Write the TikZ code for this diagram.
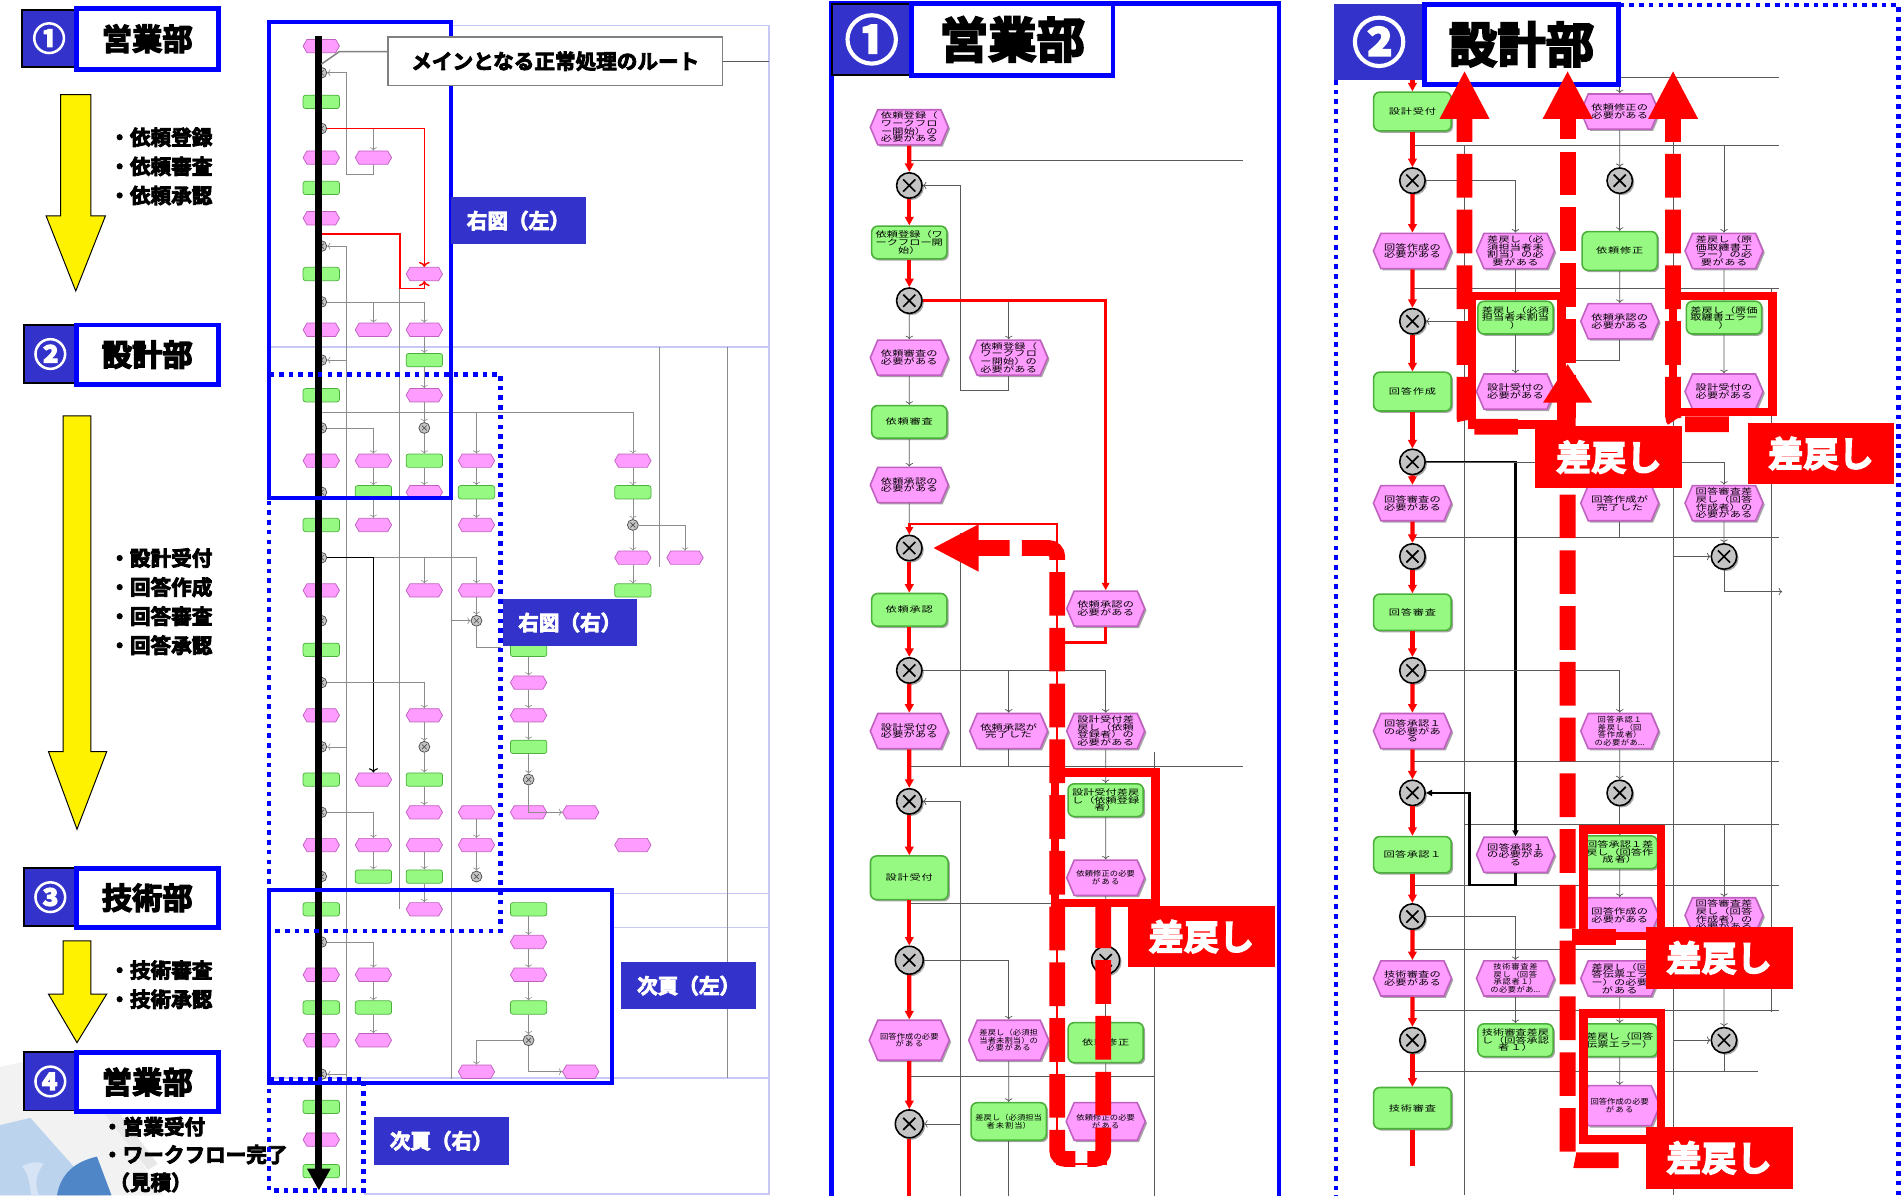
\documentclass[tikz,border=0pt]{standalone}
\usepackage{fontspec}
\setmainfont{Noto Sans CJK JP}[BoldFont={Noto Sans CJK JP Bold}]
\newfontfamily\heavyfont{Noto Sans CJK JP Bold}[FakeBold=4]
\newfontfamily\nodefont{Noto Sans CJK JP}[FakeStretch=1.4]
\newfontfamily\narrowfont{Noto Sans CJK JP}[FakeStretch=1.12]
\XeTeXlinebreaklocale "ja"
\XeTeXlinebreakskip=0pt plus 1pt
\usetikzlibrary{shapes.symbols,shadows,arrows.meta}
\definecolor{hdrblue}{HTML}{3333CC}
\definecolor{lineblue}{HTML}{0000FF}
\definecolor{evfill}{HTML}{FF9CFF}
\definecolor{evdraw}{HTML}{C060C0}
\definecolor{fnfill}{HTML}{96FA82}
\definecolor{fndraw}{HTML}{4CAF3C}
\definecolor{xrfill}{HTML}{C4C4C4}
\definecolor{lav}{HTML}{C8C8F4}
\definecolor{sashi}{HTML}{FF0000}
\definecolor{decoblue}{HTML}{4F86C8}
\definecolor{decolight}{HTML}{BCD3EE}
\begin{document}
\begin{tikzpicture}[x=1pt,y=-1pt,
ev/.style={
% event hexagon
shape=signal, signal to=east and west, signal pointer angle=134,
draw=evdraw, line width=1.3pt, fill=evfill,
minimum width=62pt, minimum height=29pt, text width=50pt, inner sep=1pt,
align=center, font=\nodefont\fontsize{6.6}{6.3}\selectfont,
drop shadow={shadow xshift=1.5pt,shadow yshift=-1.5pt,fill=black!35,opacity=1}
},
fn/.style={
% function box
rectangle, rounded corners=5pt,
draw=fndraw, line width=1.3pt, fill=fnfill,
minimum width=62pt, minimum height=27pt, text width=56pt, inner sep=1pt,
align=center, font=\nodefont\fontsize{6.6}{6.3}\selectfont,
drop shadow={shadow xshift=1.5pt,shadow yshift=-1.5pt,fill=black!35,opacity=1}
},
tight/.style={font=\narrowfont\fontsize{6.1}{6.2}\selectfont},
xr/.style={
circle, draw=black, line width=1.3pt, fill=xrfill, minimum size=21pt, inner sep=0pt,
drop shadow={shadow xshift=1.5pt,shadow yshift=-1.5pt,fill=black!35,opacity=1},
path picture={\draw[line width=1.4pt]
([shift={(-5pt,-5pt)}]path picture bounding box.center) -- ([shift={(5pt,5pt)}]path picture bounding box.center)
([shift={(-5pt,5pt)}]path picture bounding box.center) -- ([shift={(5pt,-5pt)}]path picture bounding box.center);}
},
me/.style={shape=signal, signal to=east and west, signal pointer angle=120,
draw=evdraw, line width=0.6pt, fill=evfill, minimum width=30pt, minimum height=11pt, inner sep=0pt},
mf/.style={rectangle, rounded corners=2pt, draw=fndraw, line width=0.6pt, fill=fnfill,
minimum width=30pt, minimum height=11pt, inner sep=0pt},
mx/.style={circle, draw=black!70, line width=0.6pt, fill=xrfill, minimum size=9pt, inner sep=0pt,
path picture={\draw[line width=0.5pt]
([shift={(-2pt,-2pt)}]path picture bounding box.center) -- ([shift={(2pt,2pt)}]path picture bounding box.center)
([shift={(-2pt,2pt)}]path picture bounding box.center) -- ([shift={(2pt,-2pt)}]path picture bounding box.center);}},
flow/.style={->, black!65, line width=0.6pt},
gline/.style={black!65, line width=0.6pt},
redflow/.style={-{Triangle[length=7pt,width=7pt]}, red, line width=3.5pt},
redline/.style={red, line width=3.5pt},
redthin/.style={red, line width=2pt},
thickflow/.style={-{Triangle[length=5pt,width=5pt]}, black, line width=2pt},
bigdash/.style={sashi, line width=13pt, dash pattern=on 36pt off 10pt, rounded corners=7pt},
bighead/.style={-{Triangle[length=40pt,width=38pt]}},
redbox/.style={draw=sashi, line width=7pt},
sashitag/.style={fill=sashi, text=white, font=\heavyfont\fontsize{29}{29}\selectfont,
minimum width=121pt, minimum height=51pt, inner sep=0pt},
hdrnum/.style={fill=hdrblue, draw=black, line width=1.5pt, text=white, inner sep=0pt},
hdrname/.style={fill=white, draw=lineblue, line width=4pt, inner sep=0pt},
tagbox/.style={fill=hdrblue, text=white, font=\heavyfont\fontsize{17}{17}\selectfont,
minimum width=111pt, minimum height=39pt, inner sep=0pt},
bullet/.style={font=\heavyfont\fontsize{17}{24}\selectfont, align=left, anchor=north west, inner sep=0pt},
mini/.style={black!45, line width=0.5pt},
minired/.style={red, line width=1.2pt},
lavline/.style={lav, line width=1.5pt},
bluebox/.style={lineblue, line width=3.5pt},
bluedot/.style={lineblue, line width=3.8pt, dash pattern=on 3.8pt off 4.2pt},
yarrow/.style={fill=yellow, draw=black, line width=0.8pt}
]
\useasboundingbox (0,0) rectangle (1568,986);
\fill[white] (0,0) rectangle (1568,986);

% ---------------- left column ----------------
\fill[gray!10] (0,880) -- (55,868) -- (135,986) -- (0,986) -- cycle;
\fill[gray!18] (60,885) -- (70,880) -- (130,960) -- (122,965) -- cycle;
\fill[decolight] (0,928) -- (25,922) -- (82,986) -- (0,986) -- cycle;
\fill[decoblue] (47,986) .. controls (50,968) and (62,958) .. (80,954) -- (92,986) -- cycle;
\fill[decolight!60!white] (18,962) .. controls (26,958) and (32,958) .. (36,960) .. controls (30,968) and (28,976) .. (32,986) -- (26,986) .. controls (24,976) and (24,968) .. (18,962) -- cycle;

\node[hdrnum, minimum width=45pt, minimum height=47pt, font=\heavyfont\fontsize{27}{27}\selectfont] (num1) at (40.5,31.5) {①};
\node[hdrname, minimum width=117pt, minimum height=50pt, font=\heavyfont\fontsize{25}{25}\selectfont] (dept1) at (121.5,32) {営業部};
\node[hdrnum, minimum width=43pt, minimum height=48pt, font=\heavyfont\fontsize{27}{27}\selectfont] (num2) at (41.5,292) {②};
\node[hdrname, minimum width=117pt, minimum height=49pt, font=\heavyfont\fontsize{25}{25}\selectfont] (dept2) at (121.5,292.5) {設計部};
\node[hdrnum, minimum width=43pt, minimum height=48pt, font=\heavyfont\fontsize{27}{27}\selectfont] (num3) at (41.5,740) {③};
\node[hdrname, minimum width=117pt, minimum height=49pt, font=\heavyfont\fontsize{25}{25}\selectfont] (dept3) at (121.5,740.5) {技術部};
\node[hdrnum, minimum width=43pt, minimum height=48pt, font=\heavyfont\fontsize{27}{27}\selectfont] (num4) at (41.5,892) {④};
\node[hdrname, minimum width=117pt, minimum height=49pt, font=\heavyfont\fontsize{25}{25}\selectfont] (dept4) at (121.5,892.5) {営業部};

\draw[yarrow] (50,78) -- (75,78) -- (75,178) -- (87,178) -- (62.5,240) -- (38,178) -- (50,178) -- cycle;
\draw[yarrow] (52,343) -- (75,343) -- (75,620) -- (88,620) -- (63.5,684) -- (40,620) -- (52,620) -- cycle;
\draw[yarrow] (52,776) -- (75,776) -- (75,820) -- (88,820) -- (63.5,860) -- (40,820) -- (52,820) -- cycle;

\node[bullet] (tasks1) at (90,105) {・依頼登録\\・依頼審査\\・依頼承認};
\node[bullet] (tasks2) at (90,452) {・設計受付\\・回答作成\\・回答審査\\・回答承認};
\node[bullet] (tasks3) at (90,792) {・技術審査\\・技術承認};
\node[bullet, font=\heavyfont\fontsize{17}{23}\selectfont] (tasks4) at (84,921) {・営業受付\\・ワークフロー完了\\\hspace*{6pt}（見積）};

% ---------------- overview ----------------
\draw[lavline] (372,21) -- (634,21) -- (634,985) -- (300,985);
\draw[lavline] (222,286) -- (634,286);
\draw[lavline] (505,737) -- (634,737);
\draw[lavline] (505,765) -- (634,765);
\draw[lavline] (222,889) -- (634,889);

\foreach \y/\t in {38/me,60/mx,84/mf,106/mx,130/me,155/mf,180/me,203/mx,226/mf,249/mx,272/me,297/mx,
326/mf,353/mx,380/me,406/mx,433/mf,460/mx,487/me,512/mx,536/mf,563/mx,590/me,616/mx,643/mf,670/mx,
697/me,723/mx,750/mf,777/mx,804/me,831/mf,858/me,886/mx,913/mf,940/me,966/mf}
\node[\t] (a\y) at (265,\y) {};
\foreach \y/\t in {130/me,272/me,380/me,406/mf,433/me,643/me,697/me,723/mf,804/me,831/mf,858/me}
\node[\t] (b\y) at (308,\y) {};
\foreach \y/\t in {226/me,272/me,297/mf,326/me,353/mx,380/mf,406/me,487/me,590/me,616/mx,643/mf,670/me,697/me,723/mf,750/me}
\node[\t] (c\y) at (350,\y) {};
\foreach \y/\t in {380/me,406/mf,433/me,487/me,512/mx,670/me,697/me,723/mx,884/me}
\node[\t] (d\y) at (393,\y) {};
\foreach \y/\t in {536/mf,563/me,590/me,616/mf,643/mx,670/me,750/mf,777/me,804/me,831/mf,858/mx}
\node[\t] (e\y) at (436,\y) {};
\foreach \y/\t in {670/me,884/me}
\node[\t] (f\y) at (479,\y) {};
\foreach \y/\t in {380/me,406/mf,433/mx,460/me,487/mf,697/me}
\node[\t] (g\y) at (522,\y) {};
\node[me] (h460) at (565,460) {};

\coordinate (m193) at (265,193);
\coordinate (m340) at (265,340);
\draw[mini,->] (b130.south) -- ++(0,8) -| (286,60) -- (a60.east);
\draw[mini,->] (a106.east) -| (b130.north);
\draw[mini] (286,203) -- (286,980);
\draw[mini,<-] (a203.east) -- (286,203);
\draw[mini,->] (a249.east) -| (b272.north);
\draw[mini,->] (a249.east) -| (c272.north);
\draw[mini,<-] (a297.east) -- (286,297);
\draw[mini,->] (c272) -- (c297);
\draw[mini,->] (c297) -- (c326);
\draw[mini,->] (c326) -- (c353);
\draw[mini,->] (c353) -- (c380);
\draw[mini,->] (c380) -- (c406);
\draw[mini,->] (m340) -| (d380.north);
\draw[mini,->] (m340) -| (g380.north);
\draw[mini,->] (a353.east) -| (b380.north);
\draw[mini,->] (b380) -- (b406);
\draw[mini,->] (b406) -- (b433);
\draw[mini,->] (d380) -- (d406);
\draw[mini,->] (d406) -- (d433);
\draw[mini,->] (g380) -- (g406);
\draw[mini,->] (g406) -- (g433);
\draw[mini,->] (g433) -- (g460);
\draw[mini,->] (g460) -- (g487);
\draw[mini,->] (g433.east) -| (h460.north);
\draw[mini] (329,238) -- (329,750);
\draw[mini] (372,380) -- (372,890);
\draw[mini] (544,286) -- (544,468);
\draw[mini] (600,286) -- (600,889);
\draw[mini,->] (a460.east) -| (c487.north);
\draw[mini,->] (a460.east) -| (d487.north);
\draw[black, line width=0.9pt,->] (a460.east) -| (b643.north);
\draw[mini,->] (d487) -- (d512);
\draw[mini,<-] (d512.west) -- (372,512);
\draw[mini] (d512.south) |- (413,534);
\draw[mini,->] (a563.east) -| (c590.north);
\draw[mini,->] (c590) -- (c616);
\draw[mini,->] (c616) -- (c643);
\draw[mini,->] (c643) -- (c670);
\draw[mini,<-] (a616.east) -- (286,616);
\draw[mini,->] (a670.east) -| (b697.north);
\draw[mini,->] (b697) -- (b723);
\draw[mini,->] (c697) -- (c723);
\draw[mini,->] (c723) -- (c750);
\draw[mini,->] (d670) -- (d697);
\draw[mini,->] (d697) -- (d723);
\draw[mini,->] (e536) -- (e563);
\draw[mini,->] (e563) -- (e590);
\draw[mini,->] (e590) -- (e616);
\draw[mini,->] (e616) -- (e643);
\draw[mini,->] (e643.south) |- (f670.west);
\draw[mini,->] (a777.east) -| (b804.north);
\draw[mini,->] (b804) -- (b831);
\draw[mini,->] (b831) -- (b858);
\draw[mini,->] (e750) -- (e777);
\draw[mini,->] (e777) -- (e804);
\draw[mini,->] (e804) -- (e831);
\draw[mini,->] (e831) -- (e858);
\draw[mini,->] (e858.south) |- (f884.west);
\draw[mini,->] (e858.west) -| (d884.north);
\draw[mini,<-] (a886.east) -- (286,886);
\draw[minired,->] (a106.east) -| (c226.north);
\draw[minired,->] (m193) -| (330,238) -| (c226.south);

\coordinate (routetop) at (263,30);
\coordinate (routeend) at (263,982);
\draw[line width=6pt, -{Triangle[length=18pt,width=18pt]}] (routetop) -- (routeend);

\draw[bluebox] (222,18) rectangle (372,411);
\draw[bluedot] (222,309) rectangle (413,768);
\draw[bluebox] (222,734) rectangle (505,893);
\draw[bluedot] (222,890) rectangle (300,982);

\node[tagbox] (tagRL) at (427.5,182) {右図（左）};
\node[tagbox] (tagRR) at (470,513.5) {右図（右）};
\node[tagbox] (tagNL) at (568,813) {次頁（左）};
\node[tagbox] (tagNR) at (364,941) {次頁（右）};

\node[draw=gray, line width=1.5pt, fill=white, minimum width=276pt, minimum height=40pt, inner sep=0pt,
font=\heavyfont\fontsize{17}{17}\selectfont] (mainroute) at (458,50.5) {メインとなる正常処理のルート};
\draw[gray, line width=1.2pt] ([yshift=8pt]mainroute.west) -- (280,42.5) -- (265,53);
\draw[gline] (mainroute.east) -- (634,50.5);

% ---------------- panel 1 ----------------
\draw[lineblue, line width=4pt] (686,3) rectangle (1055,992);

\node[ev] (p1a1) at (750,105) {依頼登録（\\ワークフロ\\ー開始）の\\必要がある};
\node[xr] (p1x1) at (750,153) {};
\node[fn] (p1a2) at (750,200) {依頼登録（ワ\\ークフロー開\\始）};
\node[xr] (p1x2) at (750,248) {};
\node[ev] (p1a3) at (750,295) {依頼審査の\\必要がある};
\node[ev] (p1b3) at (832,295) {依頼登録（\\ワークフロ\\ー開始）の\\必要がある};
\node[fn] (p1a4) at (750,348) {依頼審査};
\node[ev] (p1a5) at (750,400) {依頼承認の\\必要がある};
\node[xr] (p1x3) at (750,452) {};
\node[fn] (p1a6) at (750,503) {依頼承認};
\node[ev] (p1c6) at (912,502) {依頼承認の\\必要がある};
\node[xr] (p1x4) at (750,553) {};
\node[ev] (p1a7) at (750,603) {設計受付の\\必要がある};
\node[ev] (p1b7) at (832,603) {依頼承認が\\完了した};
\node[ev] (p1c7) at (912,603) {設計受付差\\戻し（依頼\\登録者）の\\必要がある};
\node[fn] (p1c8) at (912,660) {設計受付差戻\\し（依頼登録\\者）};
\node[xr] (p1x5) at (750,661) {};
\node[fn, minimum width=64pt, minimum height=36pt] (p1a8) at (750,724) {設計受付};
\node[ev, tight] (p1c9) at (912,724) {依頼修正の必要\\がある};
\node[xr, minimum size=23pt] (p1x6) at (750,792) {};
\node[xr, minimum size=23pt] (p1cx6) at (912,792) {};
\node[ev, tight, minimum height=33pt] (p1a9) at (750,858) {回答作成の必要\\がある};
\node[ev, tight, minimum height=33pt] (p1b9) at (832,858) {差戻し（必須担\\当者未割当）の\\必要がある};
\node[fn, minimum height=33pt] (p1c10) at (912,860) {依頼修正};
\node[xr, minimum size=23pt] (p1x7) at (750,927) {};
\node[fn, tight, minimum height=31pt] (p1b10) at (832,925) {差戻し（必須担当\\者未割当）};
\node[ev, tight, minimum height=31pt] (p1c11) at (912,925) {依頼修正の必要\\がある};
\coordinate (p1end) at (750,990);

\draw[gline] (750,132) -- (1025,132);
\draw[flow] (p1b3.south) |- (792,322) |- (p1x1.east);
\draw[flow] (p1x2.east) -| (p1b3.north);
\draw[flow] (p1x2) -- (p1a3);
\draw[flow] (p1a3) -- (p1a4);
\draw[flow] (p1a4) -- (p1a5);
\draw[gline] (p1a5) -- (p1x3);
\draw[gline] (792,440) -- (792,632);
\draw[flow] (p1x4.east) -| (p1b7.north);
\draw[flow] (p1x4.east) -| (p1c7.north);
\draw[gline] (750,632) -- (1025,632);
\draw[gline] (p1b7) -- (832,632);
\draw[flow] (p1c7) -- (p1c8);
\draw[flow] (p1c8) -- (p1c9);
\draw[flow] (792,990) |- (p1x5.east);
\draw[gline] (750,745) -- (952,745);
\draw[gline] (952,620) -- (952,990);
\draw[flow] (p1x6.east) -| (p1b9.north);
\draw[flow] (p1c9) -- (p1cx6);
\draw[flow] (p1cx6) -- (p1c10);
\draw[flow] (p1c10) -- (p1c11);
\draw[gline] (750,888) -- (952,888);
\draw[flow] (p1b9) -- (p1b10);
\draw[flow] (792,927) -- (p1x7.east);
\draw[gline] (p1b10) -- (832,990);

\path (p1a1) edge[redflow] (p1x1) (p1x1) edge[redflow] (p1a2) (p1a2) edge[redflow] (p1x2);
\path (p1x3) edge[redflow] (p1a6) (p1a6) edge[redflow] (p1x4) (p1x4) edge[redflow] (p1a7)
(p1a7) edge[redflow] (p1x5) (p1x5) edge[redflow] (p1a8) (p1a8) edge[redflow] (p1x6)
(p1x6) edge[redflow] (p1a9) (p1a9) edge[redflow] (p1x7) (p1x7) edge[redline] (p1end);
\draw[redthin,-{Triangle[length=6pt,width=6pt]}] (p1x2.east) -| (p1c6.north);
\draw[redthin,-{Triangle[length=6pt,width=6pt]}] (p1c6.south) |- (872,530) -- (872,432) -| (p1x3.north);
\draw[redthin] (p1c11.south) |- (872,960) -- (872,530);

\coordinate (p1ret) at (910,746);
\draw[bigdash, -{Triangle[length=38pt,width=36pt]}] (p1ret) |- (872,956) |- ([xshift=8pt]p1x3.east);
\draw[redbox] (870,637) rectangle (953,745);
\node[sashitag] (p1tag) at (991,772.5) {差戻し};

% ---------------- panel 2 ----------------
\draw[bluedot] (1102,66) -- (1102,992);
\draw[bluedot] (1336,4) -- (1566,4) -- (1566,992);

\node[fn, minimum width=64pt, minimum height=32pt] (p2a1) at (1165,92) {設計受付};
\node[ev] (p2c1) at (1336,92) {依頼修正の\\必要がある};
\node[xr] (p2x1) at (1165,149) {};
\node[xr] (p2cx1) at (1336,149) {};
\node[ev, minimum width=64pt] (p2a2) at (1165,207) {回答作成の\\必要がある};
\node[ev] (p2b2) at (1250,207) {差戻し（必\\須担当者未\\割当）の必\\要がある};
\node[fn, minimum height=32pt] (p2c2) at (1336,207) {依頼修正};
\node[ev] (p2d2) at (1422,207) {差戻し（原\\価取纏書エ\\ラー）の必\\要がある};
\node[xr] (p2x2) at (1165,265) {};
\node[fn] (p2b3) at (1250,262) {差戻し（必須\\担当者未割当\\）};
\node[ev] (p2c3) at (1336,265) {依頼承認の\\必要がある};
\node[fn] (p2d3) at (1422,262) {差戻し（原価\\取纏書エラー\\）};
\node[fn, minimum width=64pt, minimum height=32pt] (p2a4) at (1165,323) {回答作成};
\node[ev] (p2b4) at (1250,323) {設計受付の\\必要がある};
\node[ev] (p2d4) at (1422,323) {設計受付の\\必要がある};
\node[xr] (p2x3) at (1165,381) {};
\node[ev, minimum width=64pt] (p2a5) at (1165,415) {回答審査の\\必要がある};
\node[ev] (p2c5) at (1336,415) {回答作成が\\完了した};
\node[ev] (p2d5) at (1422,415) {回答審査差\\戻し（回答\\作成者）の\\必要がある};
\node[xr] (p2x4) at (1165,459) {};
\node[xr] (p2dx4) at (1422,459) {};
\node[fn, minimum width=64pt, minimum height=30pt] (p2a6) at (1165,505) {回答審査};
\node[xr] (p2x5) at (1165,553) {};
\node[ev, minimum width=64pt] (p2a7) at (1165,603) {回答承認１\\の必要があ\\る};
\node[ev, tight] (p2c7) at (1336,603) {回答承認１\\差戻し（回\\答作成者）\\の必要があ...};
\node[xr] (p2x6) at (1165,654) {};
\node[xr] (p2cx6) at (1336,654) {};
\node[fn, minimum width=64pt, minimum height=30pt] (p2a8) at (1165,705) {回答承認１};
\node[ev] (p2b8) at (1250,705) {回答承認１\\の必要があ\\る};
\node[fn] (p2c8) at (1336,703) {回答承認１差\\戻し（回答作\\成者）};
\node[xr] (p2x7) at (1165,756) {};
\node[ev] (p2c9) at (1336,755) {回答作成の\\必要がある};
\node[ev] (p2d9) at (1422,755) {回答審査差\\戻し（回答\\作成者）の\\必要がある};
\node[ev, minimum width=64pt] (p2a10) at (1165,807) {技術審査の\\必要がある};
\node[ev, tight] (p2b10) at (1250,807) {技術審査差\\戻し（回答\\承認者１）\\の必要があ...};
\node[ev] (p2c10) at (1336,807) {差戻し（回\\答伝票エラ\\ー）の必要\\がある};
\node[xr] (p2x8) at (1165,858) {};
\node[xr] (p2dx8) at (1422,858) {};
\node[fn] (p2b11) at (1250,858) {技術審査差戻\\し（回答承認\\者１）};
\node[fn] (p2c11) at (1336,858) {差戻し（回答\\伝票エラー）};
\node[fn, minimum width=64pt, minimum height=34pt] (p2a12) at (1165,914) {技術審査};
\node[ev, tight, minimum height=33pt] (p2c12) at (1336,912) {回答作成の必要\\がある};
\coordinate (p2top) at (1165,66);
\coordinate (p2end) at (1165,962);

\draw[gline] (1336,64) -- (1467,64);
\draw[flow] (1336,64) -- (p2c1.north);
\draw[gline] (1165,120) -- (1467,120);
\draw[gline] (1165,238) -- (1467,238);
\draw[gline] (1165,443) -- (1467,443);
\draw[gline] (1165,628) -- (1467,628);
\draw[gline] (1208,680) -- (1467,680);
\draw[gline] (1165,730) -- (1467,730);
\draw[gline] (1165,783) -- (1467,783);
\draw[gline] (1165,833) -- (1467,833);
\draw[gline] (1165,884) -- (1450,884);
\draw[gline] (1208,120) -- (1208,986);
\draw[gline] (1380,100) -- (1380,986);
\draw[gline] (1461,238) -- (1461,835);
\draw[flow] (p2x1.east) -| (p2b2.north);
\draw[flow] (p2c1) -- (p2cx1);
\draw[flow] (p2cx1) -- (p2c2);
\draw[flow] (p2c2) -- (p2c3);
\draw[flow] (1422,120) -- (p2d2.north);
\draw[flow] (p2b2) -- (p2b3);
\draw[flow] (p2b3) -- (p2b4);
\draw[flow] (p2d2) -- (p2d3);
\draw[flow] (p2d3) -- (p2d4);
\draw[flow] (1208,265) -- (p2x2.east);
\draw[gline] (p2c3.south) |- (1293,297);
\draw[thickflow] (p2x3.east) -| (p2b8.north);
\draw[flow] (p2x3.east) -| (p2d5.north);
\draw[gline] (p2c5) -- (1336,443);
\draw[flow] (p2d5) -- (p2dx4);
\draw[flow] (1380,459) -- (p2dx4.west);
\draw[flow] (p2dx4.south) |- (1470,488);
\draw[flow] (p2x5.east) -| (p2c7.north);
\draw[flow] (p2c7) -- (p2cx6);
\draw[flow] (p2cx6) -- (p2c8);
\draw[flow] (p2c8) -- (p2c9);
\draw[thickflow] (p2b8.south) |- (1212,730) |- (p2x6.east);
\draw[flow] (1422,680) -- (p2d9.north);
\draw[flow] (p2x7.east) -| (p2b10.north);
\draw[flow] (p2b10) -- (p2b11);
\draw[flow] (p2c10) -- (p2c11);
\draw[flow] (p2c11) -- (p2c12);
\draw[flow] (p2d9) -- (p2dx8);
\draw[flow] (1380,858) -- (p2dx8.west);
\draw[gline] (p2dx8) -- (1422,884);

\path (p2top) edge[redflow] (p2a1) (p2a1) edge[redflow] (p2x1) (p2x1) edge[redflow] (p2a2)
(p2a2) edge[redflow] (p2x2) (p2x2) edge[redflow] (p2a4) (p2a4) edge[redflow] (p2x3)
(p2x3) edge[redflow] (p2a5) (p2a5) edge[redflow] (p2x4) (p2x4) edge[redflow] (p2a6)
(p2a6) edge[redflow] (p2x5) (p2x5) edge[redflow] (p2a7) (p2a7) edge[redflow] (p2x6)
(p2x6) edge[redflow] (p2a8) (p2a8) edge[redflow] (p2x7) (p2x7) edge[redflow] (p2a10)
(p2a10) edge[redflow] (p2x8) (p2x8) edge[redflow] (p2a12) (p2a12) edge[redline] (p2end);

\node[hdrnum, draw=none, minimum width=75pt, minimum height=63pt, font=\heavyfont\fontsize{44}{44}\selectfont] (num2b) at (1137.5,34.5) {②};
\node[hdrname, minimum width=160pt, minimum height=66pt, font=\heavyfont\fontsize{40}{40}\selectfont] (dept2b) at (1255,36.5) {設計部};

\draw[redbox] (1214,244) rectangle (1288,350);
\draw[redbox] (1380,244) rectangle (1462,340);
\draw[redbox] (1306,684) rectangle (1370,772);
\draw[redbox] (1306,836) rectangle (1370,940);

\coordinate (l1s) at (1252,352);
\coordinate (l2s) at (1293,345);
\coordinate (l2b) at (1335,957);
\coordinate (l2c) at (1333,773);
\coordinate (l3s) at (1426,350);
\draw[bigdash, bighead] (l1s) -| (1208,58);
\draw[bigdash, bighead] (l2s) -- (1293,58);
\draw[bigdash, -{Triangle[length=32pt,width=38pt]}] (l2b) -| (1293,300);
\draw[bigdash] (l2c) -- (1293,773);
\draw[bigdash, bighead] (l3s) -| (1380,58);

\node[sashitag] (p2tag1) at (1327,377) {差戻し};
\node[sashitag] (p2tag2) at (1502,374) {差戻し};
\node[sashitag] (p2tag3) at (1418,790) {差戻し};
\node[sashitag] (p2tag4) at (1418,955) {差戻し};

% panel 1 header last
\node[hdrnum, minimum width=66pt, minimum height=59pt, font=\heavyfont\fontsize{44}{44}\selectfont] (num1b) at (719,32.5) {①};
\node[hdrname, minimum width=166pt, minimum height=59pt, font=\heavyfont\fontsize{40}{40}\selectfont] (dept1b) at (835,32.5) {営業部};
\end{tikzpicture}
\end{document}
